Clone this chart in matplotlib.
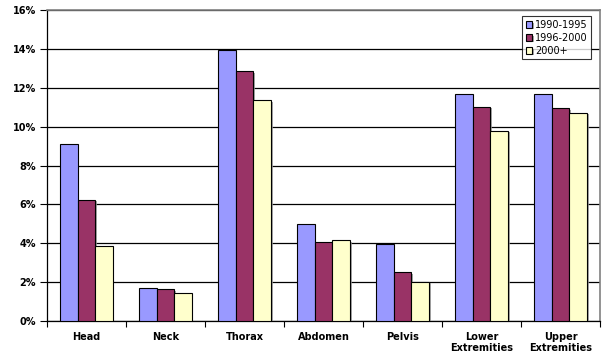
import numpy as np
import matplotlib
matplotlib.use("Agg")
import matplotlib.pyplot as plt
import matplotlib.patheffects as pe

regions = ["Head", "Neck", "Thorax", "Abdomen", "Pelvis", "Lower\nExtremities", "Upper\nExtremities"]
period_labels = ["1990-1995", "1996-2000", "2000+"]
share_1990_1995 = [9.12, 1.69, 13.94, 4.99, 3.94, 11.67, 11.67]
share_1996_2000 = [6.24, 1.65, 12.84, 4.06, 2.52, 11.02, 10.95]
share_2000_plus = [3.87, 1.43, 11.35, 4.16, 2.02, 9.80, 10.71]
colors = ["#9999FF", "#993366", "#FFFFCC"]

fig = plt.figure(figsize=(6.04, 3.55), dpi=100)
ax = fig.add_axes([0.0778, 0.0958, 0.9156, 0.876])

x = np.arange(len(regions))
w = 1 / 4.5
shadow = [pe.SimplePatchShadow(offset=(1.2, -1.2), shadow_rgbFace="#909090", alpha=0.8), pe.Normal()]
for i, (vals, c, lab) in enumerate(zip([share_1990_1995, share_1996_2000, share_2000_plus], colors, period_labels)):
    bars = ax.bar(x + (i - 1) * w, vals, w, color=c, edgecolor="black", linewidth=0.8, label=lab, zorder=3)
    for b in bars:
        b.set_path_effects(shadow)

ax.set_xlim(-0.5, len(regions) - 0.5)
ax.set_ylim(0, 16)
ax.set_yticks(np.arange(0, 17, 2))
ax.set_yticklabels([f"{v}%" for v in range(0, 17, 2)], fontsize=7, fontweight="bold")
ax.yaxis.grid(True, color="black", linewidth=0.9, zorder=0)
ax.set_axisbelow(True)

ax.set_xticks(np.arange(-0.5, len(regions), 1))
ax.set_xticklabels([])
ax.set_xticks(x, minor=True)
ax.set_xticklabels(regions, minor=True, fontsize=7, fontweight="bold", linespacing=1.1)
ax.tick_params(axis="x", which="minor", length=0, pad=8)
ax.tick_params(axis="x", which="major", length=4, width=0.8, direction="out")
ax.tick_params(axis="y", length=5, width=0.8, direction="out", pad=3)

for s in ["top", "right"]:
    ax.spines[s].set_color("#808080")
    ax.spines[s].set_linewidth(1.2)
for s in ["left", "bottom"]:
    ax.spines[s].set_color("black")
    ax.spines[s].set_linewidth(0.9)

leg = ax.legend(loc="upper right", bbox_to_anchor=(0.993, 0.995), fontsize=7, frameon=True,
                fancybox=False, edgecolor="black", handlelength=0.7, handleheight=0.7,
                handletextpad=0.3, borderpad=0.35, labelspacing=0.3)
leg.get_frame().set_linewidth(0.8)

fig.savefig("out.png", dpi=100)
